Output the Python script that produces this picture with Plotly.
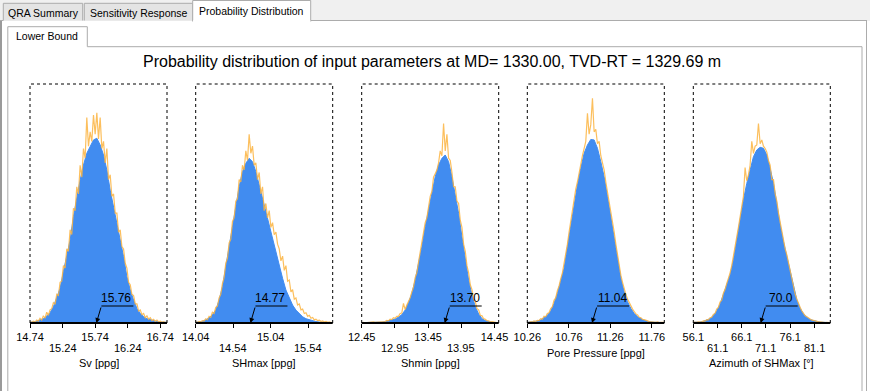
import numpy as np
import plotly.graph_objects as go

W, H = 870, 391

# ---------------- data ----------------
param_names = ["Sv [ppg]", "SHmax [ppg]", "Shmin [ppg]", "Pore Pressure [ppg]", "Azimuth of SHMax [°]"]
x_ranges = [[14.74, 16.845], [14.04, 15.867], [12.45, 14.513], [10.26, 11.91], [56.1, 84.37]]
tick_row1 = [["14.74", "15.74", "16.74"], ["14.04", "15.04"], ["12.45", "13.45", "14.45"],
             ["10.26", "10.76", "11.26", "11.76"], ["56.1", "66.1", "76.1"]]
tick_row2 = [["15.24", "16.24"], ["14.54", "15.54"], ["12.95", "13.95"], [], ["61.1", "71.1", "81.1"]]
marker_labels = ["15.76", "14.77", "13.70", "11.04", "70.0"]

blue_sv = [0.3, 0.4, 0.7, 1.3, 1.8, 2.9, 4.3, 6.8, 10.3, 14.5, 21.5, 27.8, 34.7, 44.5, 52.9, 59.8, 66.1, 71, 73.8, 76.6,
           77.3, 74.5, 70.3, 64, 55.6, 48.7, 41.7, 34.7, 27.8, 19.4, 13.8, 9.6, 6.1, 4, 2.6, 1.8, 1.3, 0.8, 0.6, 0.4, 0.3, 0.3]
orange_sv = [0.5, 0.3, 0.8, 0.4, 1.2, 0.8, 2.0, 1.2, 3.0, 2.0, 4.5, 3.2, 5.5, 6.0, 8.5, 7.8, 12.0, 11.5, 17.0, 17.5,
             24, 23, 31, 30, 39, 37, 48, 47, 57, 54, 66, 61, 73, 69, 86, 74, 80, 76, 87, 79,
             88, 77, 86, 73, 76, 67, 73, 60, 62, 53, 54, 46, 46, 38, 39, 32, 31, 25, 23, 17,
             16, 12, 11.5, 8, 8, 5, 5.5, 3.5, 4, 2.2, 3, 1.6, 2.2, 1.0, 1.5, 0.7, 1.2, 0.5, 0.8, 0.3, 0.6, 0.2, 0.4]

blue_shmax = [0.3, 0.4, 0.7, 1.3, 2.1, 3.5, 5.4, 9.6, 15.2, 23.6, 31.9, 40.3, 48.7, 57, 63.3, 66.8, 68.9, 67.5, 63.3, 57.7,
              51.5, 45.9, 40.3, 34.7, 29.1, 23.6, 18.7, 13.8, 10.3, 7.5, 5.4, 3.8, 2.6, 1.8, 1.3, 0.8, 0.6, 0.4, 0.3, 0.3, 0.15, 0.15]
orange_shmax = [0.5, 0.2, 0.7, 0.4, 1.0, 0.8, 1.8, 1.4, 2.8, 2.4, 4.5, 4.0, 6.5, 7.0, 10.5, 12.0, 16.5, 19.0, 25.0, 27.0,
                33.5, 35.0, 42.5, 44.0, 51.0, 52.0, 60.0, 59.0, 66.0, 64.0, 72.0, 68.0, 79.0, 71.0, 74.0, 66.0, 67.0, 60.0, 63.0, 54.0,
                57.0, 47.0, 50.0, 44.0, 47.0, 40.0, 42.0, 37.0, 38.0, 33.0, 31.0, 26.0, 28.0, 22.0, 24.0, 17.5, 18.0, 13.0, 14.0, 10.0,
                10.5, 7.5, 8.0, 5.5, 5.8, 4.0, 4.3, 2.8, 3.2, 2.0, 2.3, 1.3, 1.6, 1.0, 1.2, 0.6, 0.9, 0.4, 0.7, 0.3, 0.5, 0.2, 0.3]

blue_shmin = [0.15, 0.15, 0.15, 0.15, 0.3, 0.3, 0.4, 0.6, 0.8, 1.3, 1.7, 2.4, 3.5, 5.4, 8.5, 12.4, 18, 24.3, 31.9, 40.3,
              47.3, 54.3, 61.2, 66.1, 68.9, 70.3, 67.5, 61.2, 54.3, 45.9, 36.1, 26.4, 18, 11.7, 6.8, 3.8, 1.8, 1.0, 0.6, 0.3, 0.15, 0.15]
orange_shmin = [0.1, 0.3, 0.1, 0.2, 0.1, 0.3, 0.2, 0.5, 0.3, 0.4, 0.3, 0.6, 0.4, 0.8, 0.6, 1.1, 0.9, 1.6, 1.4, 2.2,
                2.0, 2.8, 2.8, 4.0, 4.2, 8.2, 5.6, 7.5, 9.0, 10.5, 13.0, 15.0, 19.0, 21.0, 25.5, 30.0, 33.0, 37.0, 42.0, 44.0,
                48.5, 53.0, 55.0, 61.0, 62.5, 64.0, 67.0, 72.0, 70.0, 83.5, 72.0, 79.0, 69.0, 68.0, 63.0, 57.0, 57.0, 51.0, 50.0, 43.0,
                40.0, 33.0, 30.0, 24.0, 21.0, 16.0, 14.0, 10.0, 9.0, 6.0, 5.5, 3.2, 3.0, 1.8, 1.6, 1.0, 0.9, 0.5, 0.6, 0.3, 0.3, 0.1, 0.2]

blue_pp = [0.3, 0.4, 0.6, 0.8, 1.3, 2.1, 3.2, 5, 8.2, 12.4, 17.3, 22.9, 31.9, 41, 49.4, 57.7, 64.7, 71, 74.5, 76.8,
           76.6, 73.1, 67.5, 61.2, 52.9, 44.5, 36.1, 26.4, 18.7, 13.1, 8.9, 6.1, 4, 2.6, 1.7, 1.1, 0.7, 0.4, 0.3, 0.3, 0.15, 0.15]
orange_pp = [0.4, 0.2, 0.6, 0.4, 0.9, 0.6, 1.1, 1.0, 1.8, 1.6, 2.8, 2.6, 4.0, 4.3, 6.0, 6.8, 9.5, 10.5, 13.5, 15.5,
             18.5, 21.0, 25.0, 28.5, 33.0, 38.0, 43.0, 47.0, 51.0, 56.0, 59.0, 63.0, 66.0, 70.0, 73.0, 76.0, 87.7, 79.0, 83.0, 94.0,
             80.0, 81.0, 75.0, 76.0, 70.0, 67.0, 64.0, 59.0, 55.0, 51.0, 46.5, 42.0, 38.0, 33.0, 28.0, 24.0, 20.0, 17.0, 14.0, 12.0,
             10.0, 8.5, 7.0, 5.8, 4.8, 3.8, 3.4, 2.4, 2.2, 1.5, 1.4, 1.0, 0.9, 0.6, 0.5, 0.5, 0.4, 0.3, 0.5, 0.2, 0.3, 0.2, 0.3]

blue_az = [0.3, 0.3, 0.4, 0.7, 1.1, 1.8, 3.1, 5, 7.9, 11.7, 15.9, 20.1, 26.4, 34.7, 43.8, 51.5, 58.4, 64.7, 69.6, 72.4,
           73.5, 73.1, 70.3, 64.7, 58.4, 50.1, 41, 34, 27.8, 21.5, 14.5, 9.6, 6.1, 3.8, 2.4, 1.5, 1, 0.6, 0.4, 0.3, 0.3, 0.15]
orange_az = [0.4, 0.2, 0.3, 0.5, 0.5, 0.4, 0.9, 0.8, 1.4, 1.3, 2.2, 2.4, 3.6, 4.0, 5.8, 6.5, 8.8, 9.5, 12.5, 14.0,
             16.5, 18.5, 21.0, 24.0, 27.5, 31.0, 36.0, 40.0, 45.0, 48.0, 53.0, 65.0, 59.5, 62.0, 66.0, 76.0, 71.0, 74.0, 74.5, 83.5,
             75.0, 76.6, 74.0, 73.0, 71.5, 68.0, 66.0, 60.0, 60.0, 54.0, 51.0, 46.0, 42.0, 39.0, 35.0, 31.0, 28.5, 25.0, 22.5, 18.0,
             15.0, 12.0, 10.0, 8.0, 6.5, 5.0, 4.0, 3.0, 2.6, 2.0, 1.6, 1.2, 1.1, 0.8, 0.7, 0.5, 0.5, 0.3, 0.4, 0.2, 0.3, 0.2, 0.2]

blue_series = [blue_sv, blue_shmax, blue_shmin, blue_pp, blue_az]
orange_series = [orange_sv, orange_shmax, orange_shmin, orange_pp, orange_az]

title_text = "Probability distribution of input parameters at MD= 1330.00, TVD-RT = 1329.69 m"
tab_labels = ["QRA Summary", "Sensitivity Response", "Probability Distribution"]
subtab_label = "Lower Bound"

# ---------------- layout constants ----------------
FONT = "Liberation Sans"
BLUE = "#418CF0"
ORANGE = "rgba(252,180,65,0.85)"
plot_left_px = [30, 195.7, 361.7, 527.3, 693.3]
plot_w_px = 137
plot_top_px, plot_bot_px = 84, 323


def X(p):
    return p / W


def Y(p):
    return 1 - p / H


fig = go.Figure()
annotations = []
shapes = []

# ---------------- window chrome ----------------
border = "#acacac"
shapes.append(dict(type="rect", xref="paper", yref="paper", x0=0, x1=1, y0=Y(21), y1=1,
                   fillcolor="#f0f0f0", line=dict(width=0), layer="below"))
shapes.append(dict(type="line", xref="paper", yref="paper", x0=X(0), x1=X(3.3), y0=Y(20.5), y1=Y(20.5),
                   line=dict(color=border, width=1), layer="below"))
shapes.append(dict(type="line", xref="paper", yref="paper", x0=X(310.5), x1=X(867), y0=Y(20.5), y1=Y(20.5),
                   line=dict(color=border, width=1), layer="below"))
shapes.append(dict(type="line", xref="paper", yref="paper", x0=X(1), x1=X(1), y0=Y(21), y1=0,
                   line=dict(color="#9a9a9a", width=2), layer="below"))
shapes.append(dict(type="line", xref="paper", yref="paper", x0=X(866.5), x1=X(866.5), y0=Y(20.5), y1=0,
                   line=dict(color=border, width=1), layer="below"))
tab_boxes = [(3.3, 82.7, 3.3), (84.3, 192.7, 3.3), (192.7, 310.7, 0.5)]
tab_text_y = [13.3, 13.3, 10.7]
for k, (a, b, t) in enumerate(tab_boxes):
    selected = k == 2
    shapes.append(dict(type="path", xref="paper", yref="paper",
                       path=f"M {X(a)},{Y(21.5 if selected else 20.5)} L {X(a)},{Y(t)} L {X(b)},{Y(t)} L {X(b)},{Y(21.5 if selected else 20.5)}",
                       fillcolor="#ffffff" if selected else "#e4e4e4",
                       line=dict(color=border, width=1), layer="below"))
    annotations.append(dict(xref="paper", yref="paper", x=X((a + b) / 2), y=Y(tab_text_y[k]),
                            text=tab_labels[k], showarrow=False, xanchor="center", yanchor="middle",
                            font=dict(family=FONT, size=10.5, color="#000000")))
shapes.append(dict(type="rect", xref="paper", yref="paper", x0=X(193.2), x1=X(310.2), y0=Y(22), y1=Y(20),
                   fillcolor="#ffffff", line=dict(width=0), layer="below"))
shapes.append(dict(type="path", xref="paper", yref="paper",
                   path=f"M {X(7.8)},0 L {X(7.8)},{Y(26.7)} L {X(87.3)},{Y(26.7)} L {X(87.3)},{Y(46.7)} L {X(862)},{Y(46.7)} L {X(862)},0",
                   line=dict(color=border, width=1), layer="below"))
annotations.append(dict(xref="paper", yref="paper", x=X(47.3), y=Y(35.8), text=subtab_label, showarrow=False,
                        xanchor="center", yanchor="middle", font=dict(family=FONT, size=10.5, color="#000000")))

# ---------------- charts ----------------
for i in range(5):
    sfx = "" if i == 0 else str(i + 1)
    xa, ya = "x" + sfx, "y" + sfx
    lo, hi = x_ranges[i]
    bx = np.linspace(lo, hi, len(blue_series[i]))
    ox = np.linspace(lo, hi, len(orange_series[i]))
    fig.add_trace(go.Scatter(x=bx, y=blue_series[i], mode="lines", fill="tozeroy", fillcolor=BLUE,
                             line=dict(color=BLUE, width=1), xaxis=xa, yaxis=ya,
                             hoverinfo="skip", showlegend=False))
    fig.add_trace(go.Scatter(x=ox, y=orange_series[i], mode="lines",
                             line=dict(color=ORANGE, width=1.2), xaxis=xa, yaxis=ya,
                             hoverinfo="skip", showlegend=False))

    r1 = [float(t) for t in tick_row1[i]]
    r2 = [float(t) for t in tick_row2[i]]
    pairs = sorted([(v, s) for v, s in zip(r1, tick_row1[i])] + [(v, "") for v in r2])
    left = plot_left_px[i]
    fig.layout["xaxis" + sfx] = dict(
        domain=[X(left), X(left + plot_w_px)], range=[lo, hi], anchor=ya,
        tickvals=[p[0] for p in pairs], ticktext=[p[1] for p in pairs],
        ticks="outside", ticklen=4, tickwidth=1, tickcolor="black",
        showline=False, showgrid=False, zeroline=False,
        automargin=False,
        tickfont=dict(family=FONT, size=11, color="black"), fixedrange=True)
    fig.layout["yaxis" + sfx] = dict(
        domain=[Y(plot_bot_px), Y(plot_top_px)], range=[0, 100], visible=False,
        anchor=xa, fixedrange=True, automargin=False)

    for v, s in zip(r2, tick_row2[i]):
        annotations.append(dict(xref=xa, yref=ya, x=v, y=0, yshift=-24.5, text=s, showarrow=False,
                                xanchor="center", yanchor="middle",
                                font=dict(family=FONT, size=11, color="black")))
    annotations.append(dict(xref=xa + " domain", yref=ya, x=0.5, y=0,
                            yshift=-40 if r2 else -30, text=param_names[i], showarrow=False,
                            xanchor="center", yanchor="middle",
                            font=dict(family=FONT, size=11, color="black")))
    # dotted frame (top, left, right) and solid axis line at the bottom
    shapes.append(dict(type="path", xref=xa + " domain", yref=ya + " domain",
                       path="M 0,0 L 0,1 L 1,1 L 1,0",
                       line=dict(color="black", width=1, dash="dot")))
    shapes.append(dict(type="line", xref=xa + " domain", yref=ya + " domain", x0=0, x1=1, y0=0, y1=0,
                       line=dict(color="black", width=2)))
    mv = float(marker_labels[i])
    annotations.append(dict(xref=xa, yref=ya, x=mv, y=0, ax=5, ay=-17, text="", showarrow=True,
                            arrowhead=2, arrowsize=1, arrowwidth=1, arrowcolor="black"))
    shapes.append(dict(type="line", xref=xa, yref=ya, xsizemode="pixel", xanchor=mv, x0=5, x1=37,
                       ysizemode="pixel", yanchor=0, y0=17, y1=17, line=dict(color="black", width=1)))
    annotations.append(dict(xref=xa, yref=ya, x=mv, y=0, xshift=20, yshift=25, text=marker_labels[i],
                            showarrow=False, xanchor="center", yanchor="middle",
                            font=dict(family=FONT, size=12, color="black")))

annotations.append(dict(xref="paper", yref="paper", x=X(431.5), y=Y(61), text=title_text, showarrow=False,
                        xanchor="center", yanchor="middle", font=dict(family=FONT, size=16, color="black")))

fig.update_layout(
    width=W, height=H, autosize=False,
    margin=dict(l=0, r=0, t=0, b=0, pad=0, autoexpand=False),
    paper_bgcolor="white", plot_bgcolor="rgba(0,0,0,0)",
    showlegend=False, annotations=annotations, shapes=shapes,
    font=dict(family=FONT),
)

fig.write_html("out.html", config={"displayModeBar": False, "responsive": False},
               post_script="document.body.style.margin='0';document.body.style.overflow='hidden';")
